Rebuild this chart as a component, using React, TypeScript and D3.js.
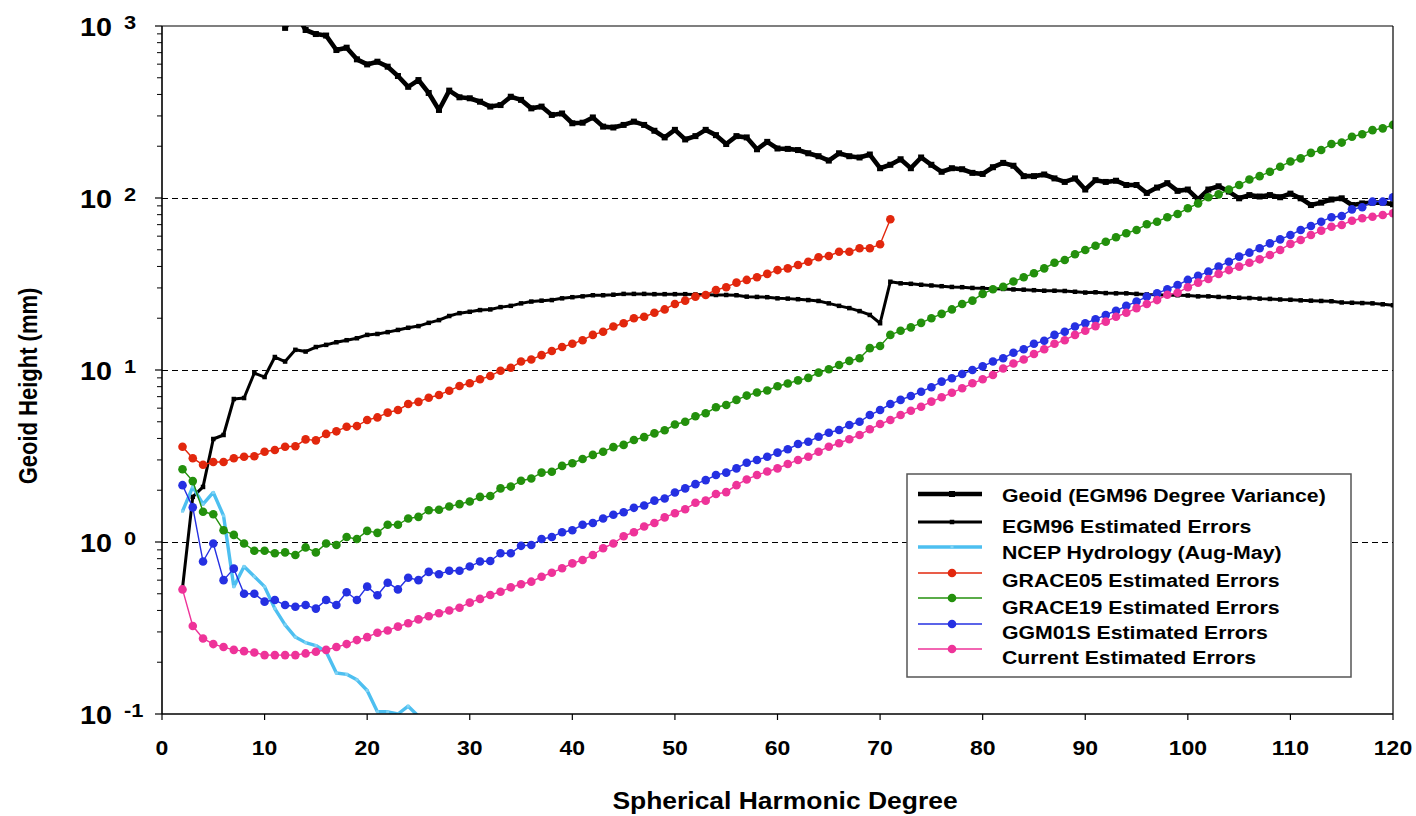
import React from "react";
import * as d3 from "d3";

// ---------- data ----------
const xTicks = [0, 10, 20, 30, 40, 50, 60, 70, 80, 90, 100, 110, 120];
const yDecades = [0.1, 1, 10, 100, 1000];
const yExponents = ["-1", "0", "1", "2", "3"];

const geoidStart = 12;
const geoid = [975,1200,948,898,880,725,748,640,598,620,580,512,443,485,408,325,421,385,380,363,340,347,388,372,332,340,304,310,272,274,294,260,257,266,278,266,246,225,249,219,229,249,232,206,229,225,192,212,194,193,190,182,175,165,182,175,172,179,149,156,168,149,172,156,142,149,147,140,138,151,160,154,134,134,137,130,124,130,112,127,124,126,119,119,107,115,122,110,112,98,112,117,109,99.6,104,102,104,101,106,99.6,91,94,98,99.6,91,93,94,94,92];

const egmErrStart = 2;
const egmErr = [0.54,1.83,2.09,3.97,4.19,6.78,6.87,9.6,9.1,11.9,
11.2,13.1,12.8,13.6,14.0,14.5,14.9,15.3,16.0,16.2,
16.6,17.1,17.6,18.0,18.8,19.5,20.6,21.4,21.8,22.3,
22.5,23.2,23.6,24.4,25.0,25.3,25.5,26.1,26.5,26.8,
27.2,27.2,27.4,27.7,27.7,27.7,27.6,27.6,27.6,27.6,
27.5,27.4,27.3,27.3,27.2,26.7,26.6,26.5,26.1,26.0,
25.8,25.5,25.2,24.4,23.6,22.9,22.0,20.9,18.7,32.6,
31.9,31.7,31.3,31.0,30.7,30.4,30.3,30.0,29.9,29.7,
29.6,29.4,29.3,29.1,28.9,28.9,28.8,28.5,28.2,28.3,
28.0,27.9,27.9,27.7,27.5,27.4,27.2,27.2,27.1,26.8,
26.8,26.6,26.5,26.3,26.2,26.0,25.9,25.7,25.6,25.4,
25.3,25.2,25.1,24.7,24.6,24.5,24.4,24.1,23.8];

const ncepStart = 2;
const ncep = [1.51,2.09,1.66,1.94,1.42,0.55,0.72,0.63,0.55,0.41,0.33,0.28,0.26,0.25,0.23,0.173,0.17,0.158,0.137,0.103,0.103,0.1,0.111,0.097];

const grace05Start = 2;
const grace05 = [3.58,3.07,2.81,2.92,2.92,3.07,3.13,3.15,3.35,3.43,
3.58,3.6,3.95,3.9,4.25,4.4,4.68,4.72,5.12,5.3,
5.65,5.85,6.34,6.53,6.9,7.16,7.58,8.07,8.37,8.83,
9.23,9.9,10.3,11.2,11.5,12.2,12.9,13.6,14.2,14.9,
16.0,16.7,17.9,18.7,20.0,20.4,21.5,22.5,24.2,25.3,
26.7,27.3,29.2,30.3,32.2,33.4,34.6,36.2,38.1,39.0,
40.8,42.6,45.2,46.0,48.7,48.7,51.0,51.0,53.8,75.2];

const grace19Start = 2;
const grace19 = [2.65,2.26,1.50,1.45,1.17,1.10,0.98,0.89,0.89,0.86,
0.87,0.84,0.93,0.87,0.98,0.96,1.07,1.04,1.16,1.13,
1.26,1.26,1.37,1.40,1.53,1.54,1.61,1.66,1.72,1.83,
1.85,2.05,2.10,2.27,2.34,2.53,2.56,2.77,2.87,3.04,
3.21,3.35,3.56,3.67,3.92,4.07,4.28,4.46,4.82,5.0,
5.38,5.6,6.07,6.26,6.7,7.1,7.4,7.6,8.05,8.35,
8.7,9.0,9.65,10.1,10.7,11.3,11.7,13.4,13.8,16.0,
16.9,17.7,18.8,20.0,21.2,22.5,24.2,25.3,27.7,29.5,
30.5,32.7,34.6,36.5,39.0,42.0,43.6,47.1,49.9,52.8,
55.7,59.1,62.4,65.2,70.3,72.8,77.3,80.8,87.1,93.1,
101,105,112,119,128,134,142,152,163,170,
183,190,206,210,227,235,248,254,266];

const ggm01sStart = 2;
const ggm01s = [2.14,1.59,0.77,0.98,0.60,0.70,0.50,0.50,0.45,0.46,
0.43,0.42,0.43,0.41,0.46,0.43,0.51,0.46,0.55,0.49,
0.58,0.53,0.62,0.60,0.67,0.65,0.68,0.68,0.72,0.77,
0.775,0.86,0.86,0.95,0.96,1.04,1.07,1.14,1.17,1.26,
1.29,1.37,1.44,1.49,1.58,1.63,1.74,1.79,1.94,2.05,
2.17,2.29,2.45,2.53,2.68,2.89,3.0,3.13,3.31,3.46,
3.71,3.83,4.09,4.32,4.48,4.79,5.0,5.47,5.85,6.34,
6.7,7.06,7.48,7.94,8.56,8.95,9.48,10.0,10.5,11.2,
11.7,12.6,13.2,14.2,14.8,16.0,16.7,17.9,18.7,19.7,
20.9,22.1,23.6,25.0,26.7,27.9,29.5,31.2,33.4,35.3,
37.3,39.9,42.6,45.6,48.1,51.0,54.5,57.5,60.9,65.2,
68.7,72.8,77.3,78.6,85.9,88.3,95.2,95.2,101];

const currentStart = 2;
const current = [0.53,0.325,0.275,0.255,0.245,0.236,0.232,0.228,0.22,0.22,
0.22,0.22,0.225,0.23,0.236,0.245,0.255,0.269,0.28,0.297,
0.306,0.322,0.337,0.355,0.37,0.385,0.40,0.415,0.444,0.467,
0.492,0.514,0.545,0.568,0.588,0.628,0.663,0.703,0.751,0.786,
0.84,0.92,0.98,1.08,1.14,1.23,1.29,1.39,1.47,1.55,
1.69,1.74,1.90,1.95,2.14,2.31,2.45,2.57,2.68,2.84,
3.0,3.13,3.35,3.58,3.75,3.96,4.19,4.52,4.85,5.12,
5.47,5.80,6.12,6.55,6.94,7.38,7.83,8.37,8.83,9.35,
10.2,10.9,11.5,12.4,13.2,14.2,14.9,16.0,16.9,18.0,
19.1,20.4,21.5,22.9,24.2,25.5,27.4,28.1,30.3,32.2,
33.8,36.2,38.1,39.9,42.0,44.0,46.6,49.9,54.1,57.0,
60.9,64.6,68.1,69.7,73.8,76.2,77.8,79.6,81.5];

const seriesNames = [
  "Geoid (EGM96 Degree Variance)",
  "EGM96 Estimated Errors",
  "NCEP Hydrology (Aug-May)",
  "GRACE05 Estimated Errors",
  "GRACE19 Estimated Errors",
  "GGM01S Estimated Errors",
  "Current Estimated Errors",
];

// ---------- layout / style ----------
const W = 1416, H = 816;
const L = 162, R = 1393, T = 26, B = 714;
const SX = 1.15;
const FONT = "'Liberation Sans', Arial, Helvetica, sans-serif";

type S = { name: string; start: number; values: number[]; color: string; width: number; marker: "square" | "circle" | "tiny"; msize: number };

const series: S[] = [
  { name: seriesNames[0], start: geoidStart, values: geoid, color: "#000", width: 4.6, marker: "square", msize: 6 },
  { name: seriesNames[1], start: egmErrStart, values: egmErr, color: "#000", width: 3, marker: "square", msize: 4.5 },
  { name: seriesNames[2], start: ncepStart, values: ncep, color: "#4dbff0", width: 3.4, marker: "tiny", msize: 3 },
  { name: seriesNames[3], start: grace05Start, values: grace05, color: "#e2270d", width: 1.4, marker: "circle", msize: 4.3 },
  { name: seriesNames[4], start: grace19Start, values: grace19, color: "#23900c", width: 1.4, marker: "circle", msize: 4.3 },
  { name: seriesNames[5], start: ggm01sStart, values: ggm01s, color: "#2530e2", width: 1.4, marker: "circle", msize: 4.3 },
  { name: seriesNames[6], start: currentStart, values: current, color: "#ee3399", width: 1.4, marker: "circle", msize: 4.3 },
];

const Txt = ({ x, y, size, anchor = "start", children }: any) => (
  <text transform={`translate(${x},${y}) scale(${SX},1)`} fontSize={size} fontWeight="bold" fontFamily={FONT} textAnchor={anchor} fill="#000">
    {children}
  </text>
);

function Marker({ kind, x, y, size, color }: { kind: string; x: number; y: number; size: number; color: string }) {
  if (kind === "circle") return <circle cx={x} cy={y} r={size} fill={color} />;
  return <rect x={x - size / 2} y={y - size / 2} width={size} height={size} fill={color} />;
}

export default function App() {
  const x = d3.scaleLinear().domain([0, 120]).range([L, R]);
  const y = d3.scaleLog().domain([0.1, 1000]).range([B, T]);

  const line = d3
    .line<[number, number]>()
    .x((d) => x(d[0]))
    .y((d) => y(d[1]));

  const minorTicks: number[] = [];
  for (let e = -1; e < 3; e++) for (let k = 2; k <= 9; k++) minorTicks.push(k * Math.pow(10, e));

  const legendRows = [494, 522, 547, 573, 598, 624, 649];
  const legendText = [502, 533, 559, 587, 614, 639, 664];

  return (
    <svg width={W} height={H} style={{ position: "absolute", left: 0, top: 0, background: "#fff" }}>
      <defs>
        <clipPath id="plot">
          <rect x={L} y={T} width={R - L} height={B - T} />
        </clipPath>
      </defs>
      <rect x={0} y={0} width={W} height={H} fill="#fff" />

      {/* dashed gridlines */}
      {[1, 10, 100].map((v) => (
        <line key={v} x1={L} x2={R} y1={y(v)} y2={y(v)} stroke="#000" strokeWidth={1} strokeDasharray="6,4" shapeRendering="crispEdges" />
      ))}

      {/* series */}
      <g clipPath="url(#plot)">
        {series.map((s) => {
          const pts: [number, number][] = s.values.map((v, i) => [s.start + i, v]);
          return (
            <g key={s.name}>
              <path d={line(pts) || ""} fill="none" stroke={s.color} strokeWidth={s.width} strokeLinejoin="round" />
              {pts.map((p, i) => (
                <Marker key={i} kind={s.marker} x={x(p[0])} y={y(p[1])} size={s.msize} color={s.marker === "tiny" ? "#7fd3f5" : s.color} />
              ))}
            </g>
          );
        })}
      </g>

      {/* frame */}
      <line x1={L} x2={R} y1={T} y2={T} stroke="#000" strokeWidth={1.2} />
      <line x1={R} x2={R} y1={T} y2={B} stroke="#000" strokeWidth={1.2} />
      <line x1={L} x2={L} y1={T} y2={B} stroke="#000" strokeWidth={1.6} />
      <line x1={L} x2={R} y1={B} y2={B} stroke="#000" strokeWidth={1.6} />

      {/* y ticks */}
      {minorTicks.map((v) => (
        <line key={"m" + v} x1={L - 5} x2={L} y1={y(v)} y2={y(v)} stroke="#000" strokeWidth={1} />
      ))}
      {yDecades.map((v, i) => (
        <g key={"d" + v}>
          <line x1={L - 7} x2={L} y1={y(v)} y2={y(v)} stroke="#000" strokeWidth={1.2} />
          <Txt x={80} y={y(v) + 10} size={25}>10</Txt>
          <Txt x={124} y={y(v) + 3} size={19}>{yExponents[i]}</Txt>
        </g>
      ))}

      {/* x ticks */}
      {xTicks.map((t) => (
        <g key={"x" + t}>
          <line x1={x(t)} x2={x(t)} y1={B} y2={B + 6} stroke="#000" strokeWidth={1.2} />
          <Txt x={x(t)} y={755} size={20} anchor="middle">{t}</Txt>
        </g>
      ))}

      {/* axis titles */}
      <Txt x={785} y={809} size={23} anchor="middle">Spherical Harmonic Degree</Txt>
      <text
        transform={`translate(37,386) scale(${SX},1) rotate(-90)`}
        fontSize={22}
        fontWeight="bold"
        fontFamily={FONT}
        textAnchor="middle"
        fill="#000"
      >
        Geoid Height (mm)
      </text>

      {/* legend */}
      <rect x={907} y={474} width={444} height={203} fill="#fff" stroke="#555" strokeWidth={1.5} />
      {series.map((s, i) => (
        <g key={"lg" + i}>
          <line x1={918} x2={982} y1={legendRows[i]} y2={legendRows[i]} stroke={s.color} strokeWidth={s.marker === "circle" ? 1.4 : s.width} />
          <Marker kind={s.marker} x={952} y={legendRows[i]} size={s.msize} color={s.marker === "tiny" ? "#7fd3f5" : s.color} />
          <Txt x={1002} y={legendText[i]} size={18.5}>{s.name}</Txt>
        </g>
      ))}
    </svg>
  );
}
